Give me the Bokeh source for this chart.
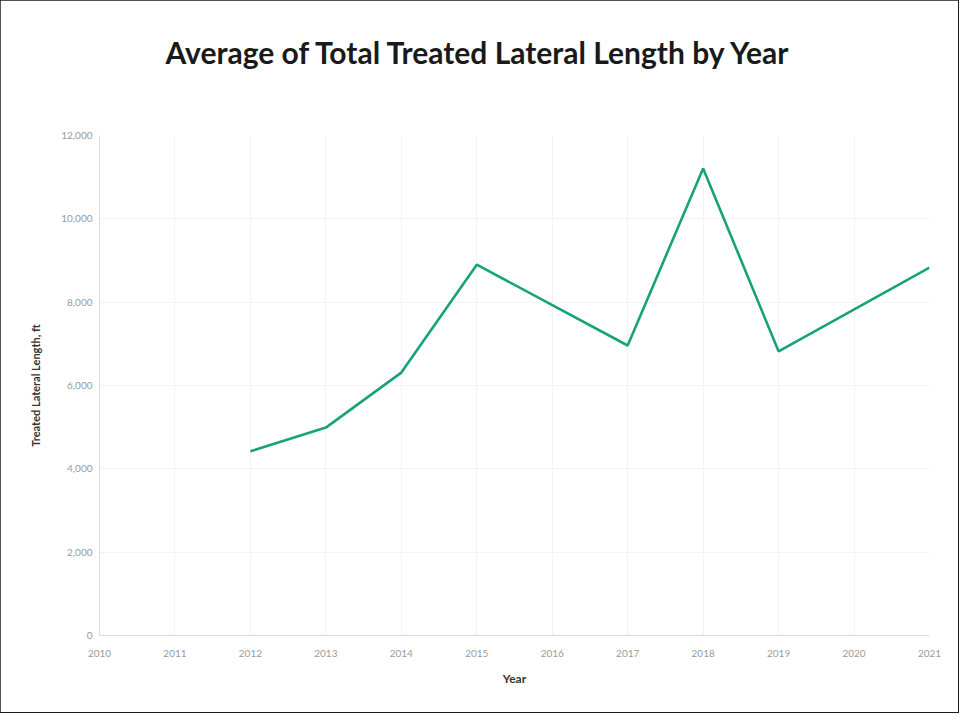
from bokeh.plotting import figure
from bokeh.models import Range1d, NumeralTickFormatter, FixedTicker, Title
from bokeh.embed import file_html
from bokeh.resources import INLINE

years = [2012, 2013, 2014, 2015, 2017, 2018, 2019, 2021]
avg_length = [4420, 4990, 6310, 8900, 6960, 11210, 6820, 8830]
x_ticks = list(range(2010, 2022))
y_ticks = [0, 2000, 4000, 6000, 8000, 10000, 12000]

title_text = "Average of Total Treated Lateral Length by Year"

p = figure(width=958, height=712, output_backend="svg", toolbar_location=None,
           x_range=Range1d(2010, 2021), y_range=Range1d(0, 12000),
           min_border_left=99, min_border_right=29, min_border_top=135, min_border_bottom=77)
p.styles = {"outline": "2px solid #1a1a1a", "outline-offset": "-1px"}
p.outline_line_color = None
p.background_fill_color = "white"

p.line(years, avg_length, line_color="#17a27a", line_width=2.6)

font = "Lato"
for ax in (p.xaxis[0], p.yaxis[0]):
    ax.axis_line_color = "#d9d9d9"
    ax.major_tick_line_color = None
    ax.minor_tick_line_color = None
    ax.major_tick_out = 0
    ax.major_tick_in = 0
    ax.major_label_text_color = "#9a9a9a"
    ax.major_label_text_font = font
    ax.major_label_text_font_size = "10px"
    ax.axis_label_text_font = font
    ax.axis_label_text_font_style = "bold"
    ax.axis_label_text_color = "#333333"

p.xaxis.ticker = FixedTicker(ticks=x_ticks)
p.yaxis.ticker = FixedTicker(ticks=y_ticks)
p.yaxis.formatter = NumeralTickFormatter(format="0,0")
p.xaxis.axis_label = "Year"
p.xaxis.axis_label_text_font_size = "12px"
p.xaxis.major_label_standoff = 14
p.xaxis.axis_label_standoff = 11
p.yaxis.axis_label = "Treated Lateral Length, ft"
p.yaxis.axis_label_text_font_size = "11px"
p.yaxis.major_label_standoff = 7
p.yaxis.axis_label_standoff = 16

p.xgrid.grid_line_color = "#f3f3f3"
p.ygrid.grid_line_color = "#f3f3f3"

p.add_layout(Title(text=" ", text_font_size="44px", standoff=10), "above")

p.title.text = title_text
p.title.align = "left"
p.title.offset = 66
p.title.text_font = font
p.title.text_font_style = "bold"
p.title.text_font_size = "30px"
p.title.text_color = "#1a1a1a"

open("out.html", "w").write(file_html(p, INLINE))
